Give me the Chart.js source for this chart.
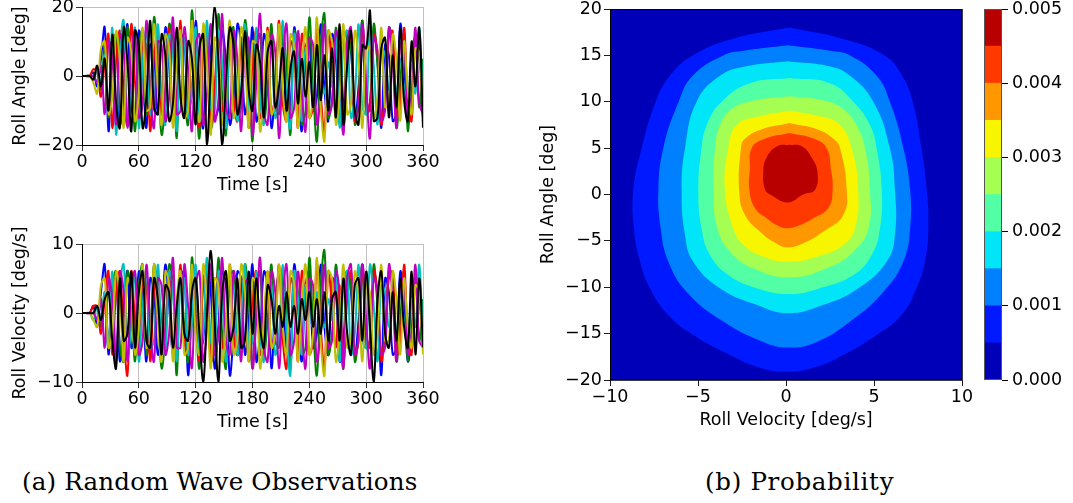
<!DOCTYPE html>
<html>
<head>
<meta charset="utf-8">
<script src="https://cdn.jsdelivr.net/npm/chart.js@4.4.0/dist/chart.umd.min.js"></script>
<style>
  html, body { margin: 0; padding: 0; background: #fff; }
  body { position: relative; width: 1073px; height: 503px; overflow: hidden; }
  canvas { position: absolute; }
  .cap { position: absolute; font-family: 'DejaVu Serif', serif; font-size: 24.5px; line-height: 1; color: #000; white-space: nowrap; }
</style>
</head>
<body>
<canvas id="angleChart" width="470" height="212" style="left:0;top:-13px"></canvas>
<canvas id="velChart" width="470" height="212" style="left:0;top:224px"></canvas>
<canvas id="probChart" width="447" height="445" style="left:530px;top:-11px"></canvas>
<canvas id="barChart" width="97" height="411" style="left:976px;top:-11px"></canvas>
<div class="cap" style="left:22px;top:470px;letter-spacing:0.2px">(a) Random Wave Observations</div>
<div class="cap" style="left:705px;top:470px;letter-spacing:0.7px">(b) Probability</div>
<script>
'use strict';

// ── Time axis (s) ─────────────────────────────────────────────────
const TIME = [0,4,8,12,16,20,24,28,32,36,40,44,48,52,56,60,64,68,72,76,80,84,88,92,96,100,104,108,112,116,
  120,124,128,132,136,140,144,148,152,156,160,164,168,172,176,180,184,188,192,196,200,204,208,212,216,220,224,228,232,236,
  240,244,248,252,256,260,264,268,272,276,280,284,288,292,296,300,304,308,312,316,320,324,328,332,336,340,344,348,352,356,360];
const TIME_TICKS = [0, 60, 120, 180, 240, 300, 360];

// ── Roll angle [deg] ──────────────────────────────────────────────
const ANGLE_BLUE = [0,0,0,1,-3,5,14,-16,8,10, -14,-3,15,-9,-12,13,2,-15,9,6, -11,-8,14,3,-13,-6,12,10,-10,-5,
  16,-4,-15,11,7,-12,-9,13,4,-14, -7,15,9,-11,-2,14,-13,-8,12,6, -15,-3,13,10,-12,-9,14,2,-16,8,
  11,-10,-6,15,-4,-13,12,5,-14,-9, 11,7,-12,-3,16,-10,-8,13,4,-15, 9,6,-13,-11,15,2,-14,-6,12,10, -12];
const ANGLE_GREEN = [0,0,0,0,2,-4,9,-12,6,12, -10,-13,14,4,-16,8,13,-11,-7,17, 3,-17,-6,15,9,-18,12,-5,-14,19,
  -2,-18,10,13,-15,-8,18,-6,-17,11, 14,-12,-9,16,5,-19,7,12,-13,-3, 15,-9,-11,14,2,-17,13,6,-14,-10,
  17,-4,-19,9,18,-12,-7,14,-3,-16, 12,8,-14,-6,16,-11,-9,15,3,-13, -7,14,10,-15,-2,12,-16,7,11,-9, 5];
const ANGLE_RED = [0,0,0,2,1,-6,4,12,-15,5, 13,-7,-14,15,-2,-12,10,9,-16,6, 12,-11,-4,14,-13,-7,16,-9,-12,13,
  6,-15,8,11,-14,-3,12,-10,-8,15, -6,-13,11,9,-15,4,13,-12,-7,14, -11,-5,16,-8,-13,10,6,-15,12,3,
  -12,-9,14,-5,-16,13,2,-11,9,-14, 5,12,-13,-8,15,-6,-10,12,7,-14, -4,11,13,-12,-9,14,-7,-13,10,5, -8];
const ANGLE_CYAN = [0,0,0,-1,2,-2,6,-10,14,-17, 8,16,-13,-5,14,-15,3,13,-11,-9, 15,-6,-14,12,7,-16,9,11,-12,-4,
  14,-13,-7,16,-9,-11,13,4,-15,10, 8,-13,-3,15,-10,-8,14,-6,-14,11, 9,-12,-6,16,-7,-15,12,5,-13,8,
  3,-4,6,-2,-5,4,-3,12,-15,9, 13,-12,-6,15,-9,-11,14,3,-14,8, 6,-4,3,-5,5,-3,-6,4,-5,14, -10];
const ANGLE_MAGENTA = [0,0,0,0,-2,3,-11,10,5,-14, 12,7,-15,6,13,-12,-8,16,-4,-15, 10,9,-13,-6,17,-11,-10,14,2,-16,
  9,12,-14,-5,15,-13,-7,18,-9,-12, 13,5,-16,8,11,-17,-2,18,-10,-14, 12,7,-18,4,15,-12,-9,13,-5,-16,
  11,9,-14,-4,15,-11,-8,13,6,-17, 10,14,-12,-9,15,-2,-18,11,7,-13, -10,14,4,-15,9,10,-12,-6,14,-8, -11];
const ANGLE_YELLOW = [0,0,0,-2,-5,8,10,-11,-6,13, 4,-15,11,7,-13,-5,14,-10,-9,15, -3,-14,12,8,-15,5,13,-12,-10,16,
  -6,-13,15,3,-17,11,8,-14,-4,16, -12,-8,14,6,-15,10,9,-16,-3,13, -11,-7,15,-4,-13,12,8,-15,2,14,
  -12,-6,17,-9,-19,13,10,-14,-5,15, -11,-8,13,4,-15,9,7,-12,-6,14, -9,-8,12,5,-13,10,-4,-11,8,7, -12];
const ANGLE_BLACK = [0,0,0,-1,3,-3,5,-10,12,-8, -15,14,4,-16,13,9,-15,-6,16,-9, -11,12,6,-13,-8,14,-6,-12,10,5,
  -14,8,12,-20,2,20,4,-20,-2,14, 9,-11,-5,13,-4,-10,9,4,-12,7, 10,-9,-3,8,-10,2,7,-8,5,-6,
  4,-9,9,-7,6,-10,8,-12,15,-14, 3,13,-10,-14,9,8,19,-13,-12,8, 11,-12,6,-9,14,-7,-13,10,-3,14, -15];

// ── Roll velocity [deg/s] ─────────────────────────────────────────
const VEL_BLUE = [0,0,0,1,-2,3,7,-6,4,5, -7,1,6,-5,-3,6,2,-7,5,3, -6,-2,7,1,-6,-4,5,6,-9,2,
  6,-5,-4,7,3,-8,-2,6,4,-9, -3,6,5,-6,-1,7,-7,-3,6,4, -8,1,6,5,-6,-5,7,1,-7,4,
  6,-5,-3,7,-2,-6,5,3,-7,-4, 6,3,-6,-1,7,-5,-4,6,2,-9, 5,3,-6,-5,6,1,-7,-3,5,4, -5];
const VEL_GREEN = [0,0,0,0,1,-2,3,-5,4,6, -5,-7,6,2,-7,4,7,-6,-3,7, 1,-8,-3,7,4,-9,6,-2,-7,8,
  -1,-8,5,6,-7,-4,8,-3,-8,5, 6,-6,-4,7,2,-8,3,6,-6,-1, 7,-4,-5,6,1,-8,6,3,-6,-5,
  8,-2,-9,4,9,-6,-3,7,-1,-8, 6,4,-7,-3,7,-5,-4,7,1,-6, -3,6,5,-7,-1,6,-7,3,5,-4, 2];
const VEL_RED = [0,0,0,1,1,-3,2,6,-6,3, 6,-3,-9,6,-1,-6,5,4,-7,3, 6,-5,-2,6,-6,-3,7,-4,-6,6,
  3,-7,4,5,-7,-1,6,-5,-4,7, -3,-6,5,4,-7,2,6,-6,-3,6, -5,-2,7,-4,-8,5,3,-7,6,1,
  -6,-4,7,-2,-8,6,1,-5,4,-7, 2,6,-6,-4,7,-3,-5,6,3,-7, -2,5,6,-6,-4,7,-3,-6,5,2, -4];
const VEL_CYAN = [0,0,0,-1,1,-1,3,-5,6,-7, 4,7,-6,-2,6,-7,1,6,-5,-4, 7,-3,-6,6,3,-7,4,5,-6,-2,
  7,-6,-3,8,-4,-5,6,2,-7,5, 4,-6,-1,7,-5,-4,6,-3,-7,5, 4,-6,-3,7,-3,-9,6,2,-6,4,
  1,-2,3,-1,-2,2,-1,6,-7,4, 6,-6,-3,7,-4,-5,7,1,-7,4, 3,-2,2,-3,3,-1,-3,2,-2,7, -5];
const VEL_MAGENTA = [0,0,0,0,-1,2,-5,5,2,-7, 6,3,-7,3,6,-6,-4,7,-2,-7, 5,4,-6,-3,8,-5,-5,7,1,-8,
  4,6,-7,-2,7,-6,-3,8,-4,-6, 6,2,-7,4,5,-8,-1,8,-5,-7, 6,3,-8,2,7,-6,-4,6,-2,-8,
  5,4,-7,-2,7,-5,-4,6,3,-8, 5,7,-6,-4,7,-1,-8,5,3,-6, -5,7,2,-7,4,5,-6,-3,7,-4, -5];
const VEL_YELLOW = [0,0,0,-1,-2,4,5,-5,-3,6, 2,-7,5,3,-6,-2,7,-5,-4,7, -1,-7,6,4,-7,2,6,-6,-5,7,
  -3,-6,7,1,-8,5,4,-7,-2,7, -6,-4,7,3,-7,5,4,-8,-1,6, -5,-3,7,-2,-6,6,4,-7,1,7,
  -6,-3,8,-4,-9,6,5,-7,-2,7, -5,-4,6,2,-7,4,3,-6,-3,7, -4,-4,6,2,-6,5,-2,-5,4,3, -6];
const VEL_BLACK = [0,0,0,0,1,-1,2,3,-4,-8, 5,-4,-3,6,-5,3,6,-4,-5,5, 2,-6,4,3,-5,1,5,-3,-4,3,
  5,-3,-10,0,9,-1,-10,3,6,-4, -2,5,-5,-4,6,-3,5,-2,-5,4, 2,-3,1,-2,3,-2,1,-3,2,-1,
  3,-2,2,-3,3,-4,2,3,-4,5, -3,-6,4,5,-4,6,-2,-10,2,6, -3,-5,3,-4,5,-2,-5,6,-6,5, -5];

// ── Probability contours: level edges and iso-lines (roll vel, roll angle) ──
const CONTOUR_LEVELS = [0, 0.0005, 0.001, 0.0015, 0.002, 0.0025, 0.003, 0.0035, 0.004, 0.0045, 0.005];
const LEVEL_TICKS = [0, 0.001, 0.002, 0.003, 0.004, 0.005];
const ISO_0005 = [[0.2,18.0],[3.2,16.8],[5.6,15],[6.6,12.8],[7.2,10],[7.7,5],[8.0,0.5],[8.09,-3.65],[7.9,-7.2],
  [7.42,-10.1],[6.57,-13],[5.15,-15.15],[3.26,-17.3],[1.74,-18.56],[0.0,-19.1],[-1.67,-18.56],[-3.18,-17.3],
  [-5.27,-15.15],[-6.69,-13],[-7.73,-10.1],[-8.3,-7.2],[-8.64,-3.65],[-8.67,0.5],[-8.2,5],[-7.4,10],
  [-6.6,12.8],[-5.3,15],[-3.0,16.8]];
const ISO_0010 = [[0.1,16.1],[2.5,15.5],[3.64,15],[5.15,12.8],[5.9,10],[6.67,5],[7.05,0.5],[7.05,-3.65],[6.67,-7.2],
  [5.53,-10.5],[3.64,-13.7],[1.74,-15.9],[0.1,-16.5],[-1.29,-15.9],[-3.56,-13.7],[-5.64,-10.5],[-6.69,-7.2],
  [-7.12,-3.65],[-7.25,0.5],[-6.97,5],[-6.1,10],[-5.3,12.8],[-3.56,15],[-2.4,15.5]];
const ISO_0015 = [[0.1,14.36],[2.5,13.8],[3.64,12.8],[4.96,10],[5.9,5],[6.19,0.5],[6.19,-4.37],[5.72,-7.24],
  [4.11,-10.1],[2.12,-11.9],[0.1,-12.81],[-1.67,-11.9],[-3.75,-10.1],[-5.27,-7.24],[-5.74,-4.37],[-5.93,0.5],
  [-5.74,5],[-5.08,10],[-3.75,12.8],[-2.3,13.8]];
const ISO_0020 = [[0.2,12.56],[2.5,12],[3.83,10],[4.77,7.5],[5.15,5],[5.44,0.5],[5.34,-3.65],[4.87,-6.52],
  [3.83,-8.68],[1.93,-10.1],[0.2,-10.73],[-1.67,-10.1],[-3.28,-8.68],[-4.32,-6.52],[-4.8,-3.65],[-4.98,0.5],
  [-4.8,5],[-4.5,7.5],[-3.66,10],[-2.05,12]];
const ISO_0025 = [[0.2,10.58],[2.2,10.1],[3.26,9.2],[4.0,7.5],[4.49,5],[4.77,0.5],[4.68,-3.65],[3.83,-6.16],
  [2.31,-7.96],[0.2,-8.93],[-1.86,-7.96],[-3.18,-6.16],[-3.9,-3.65],[-4.13,0.5],[-4.03,5],[-3.75,7.5],
  [-3.1,9.2],[-1.9,10.1]];
const ISO_0030 = [[0.2,9.04],[2.0,8.4],[3.07,7.5],[3.73,5],[4.1,0.5],[3.92,-3.65],[3.26,-5.45],[1.74,-6.7],
  [0.1,-7.24],[-1.29,-6.7],[-2.42,-5.45],[-3.0,-3.65],[-3.47,0.5],[-3.28,5],[-2.8,7.5],[-1.6,8.4]];
const ISO_0035 = [[0.2,7.7],[1.8,7.0],[2.69,6],[3.07,5],[3.45,0.5],[3.26,-2.2],[2.12,-4],[1.17,-5.1],[0.1,-5.7],
  [-0.72,-5.1],[-1.48,-4],[-2.33,-2.2],[-2.65,0.2],[-2.56,5],[-2.33,6],[-1.4,7.0]];
const ISO_0040 = [[0.2,6.63],[1.6,6.0],[2.31,5],[2.55,2.8],[2.65,0.5],[2.4,-1.49],[1.55,-2.57],[0.8,-3.3],
  [0.04,-3.65],[-0.53,-3.3],[-1.1,-2.57],[-1.76,-1.49],[-2.08,0.5],[-2.05,2.8],[-1.95,5],[-1.2,6.0]];
const ISO_0045 = [[0.2,5.37],[0.9,5.2],[1.46,4],[1.78,2.5],[1.65,0.5],[0.98,0],[0.1,-0.85],[-0.9,0],
  [-1.19,0.5],[-1.29,2.5],[-1.1,4],[-0.5,5.2]];
const ISO_LINES = [ISO_0005, ISO_0010, ISO_0015, ISO_0020, ISO_0025, ISO_0030, ISO_0035, ISO_0040, ISO_0045];

// ── Styles ────────────────────────────────────────────────────────
const JET = ['#0000b9', '#0019ff', '#007fff', '#00e5f7', '#52ffa4', '#a4ff52', '#f7f500', '#ff9700', '#ff3900', '#b90000'];
const FONT = { family: 'DejaVu Sans', size: 17.5 };

Chart.defaults.font.family = 'DejaVu Sans';
Chart.defaults.color = '#000';
Chart.defaults.animation = false;
Chart.defaults.events = [];
Chart.defaults.plugins.legend.display = false;
Chart.defaults.plugins.tooltip.enabled = false;

function fmt(v) { return v < 0 ? '\u2212' + Math.abs(v) : String(v); }

// ── Time-series panels ────────────────────────────────────────────
function waveChart(id, series, yLim, yTitle, xTitle) {
  const n = series.length;
  return new Chart(document.getElementById(id), {
    type: 'line',
    data: {
      datasets: series.map((s, i) => ({
        data: s.values.map((v, k) => ({ x: TIME[k], y: v })),
        borderColor: s.color,
        borderWidth: 2,
        pointRadius: 0,
        tension: 0.4,
        order: n - i,
      })),
    },
    options: {
      responsive: false,
      layout: { padding: { top: 20, right: 47, bottom: 0, left: 0 } },
      scales: {
        x: {
          type: 'linear', min: 0, max: 360,
          afterBuildTicks: s => { s.ticks = TIME_TICKS.map(v => ({ value: v })); },
          afterFit: s => { s.height = 54; },
          ticks: { font: FONT, padding: 1, maxRotation: 0, callback: fmt },
          grid: { color: '#b0b0b0', lineWidth: 0.8, borderDash: [3, 3], tickColor: '#000', tickLength: 6, tickBorderDash: [] },
          border: { color: '#000', width: 1 },
          title: { display: true, text: xTitle, font: FONT, padding: { top: 0, bottom: 3 } },
        },
        y: {
          min: -yLim, max: yLim,
          afterBuildTicks: s => { s.ticks = [-yLim, 0, yLim].map(v => ({ value: v })); },
          afterFit: s => { s.width = 82; },
          ticks: { font: FONT, padding: 2, callback: fmt },
          grid: { color: '#b0b0b0', lineWidth: 0.8, borderDash: [3, 3], tickColor: '#000', tickLength: 6, tickBorderDash: [] },
          border: { color: '#000', width: 1 },
          title: { display: true, text: yTitle, font: FONT, padding: { top: 10, bottom: 0 } },
        },
      },
    },
  });
}

const C = { b: '#0000ff', g: '#008000', r: '#ff0000', c: '#00bfbf', m: '#bf00bf', y: '#bfbf00', k: '#000000' };

waveChart('angleChart', [
  { values: ANGLE_BLUE, color: C.b }, { values: ANGLE_GREEN, color: C.g }, { values: ANGLE_RED, color: C.r },
  { values: ANGLE_CYAN, color: C.c }, { values: ANGLE_MAGENTA, color: C.m }, { values: ANGLE_YELLOW, color: C.y },
  { values: ANGLE_BLACK, color: C.k },
], 20, 'Roll Angle [deg]', 'Time [s]');

waveChart('velChart', [
  { values: VEL_BLUE, color: C.b }, { values: VEL_GREEN, color: C.g }, { values: VEL_RED, color: C.r },
  { values: VEL_CYAN, color: C.c }, { values: VEL_MAGENTA, color: C.m }, { values: VEL_YELLOW, color: C.y },
  { values: VEL_BLACK, color: C.k },
], 10, 'Roll Velocity [deg/s]', 'Time [s]');

// ── Contour panel ─────────────────────────────────────────────────
const contourBg = {
  id: 'contourBg',
  beforeDatasetsDraw(chart) {
    const { ctx, chartArea: a } = chart;
    ctx.save(); ctx.fillStyle = JET[0]; ctx.fillRect(a.left, a.top, a.width, a.height); ctx.restore();
  },
};
const frame = color => ({
  id: 'frame',
  afterDraw(chart) {
    const { ctx, chartArea: a } = chart;
    ctx.save(); ctx.strokeStyle = color; ctx.lineWidth = 1;
    ctx.strokeRect(Math.round(a.left) + 0.5, Math.round(a.top) + 0.5, Math.round(a.width) - 1, Math.round(a.height) - 1);
    ctx.restore();
  },
});

const darkGrid = { color: 'rgba(0,0,0,0.85)', lineWidth: 0.9, borderDash: [4, 3], tickColor: '#000', tickLength: 6, tickBorderDash: [] };

new Chart(document.getElementById('probChart'), {
  type: 'scatter',
  data: {
    datasets: ISO_LINES.map((pts, i) => ({
      data: pts.concat([pts[0]]).map(([x, y]) => ({ x, y })),
      showLine: true,
      fill: 'shape',
      backgroundColor: JET[i + 1],
      borderColor: JET[i + 1],
      borderWidth: 0,
      pointRadius: 0,
      tension: 0.45,
      order: ISO_LINES.length - i,
    })),
  },
  options: {
    responsive: false,
    layout: { padding: { top: 20, right: 15, bottom: 0, left: 0 } },
    scales: {
      x: {
        type: 'linear', min: -10, max: 10, z: 1,
        afterFit: s => { s.height = 54; },
        ticks: { font: FONT, stepSize: 5, padding: 1, maxRotation: 0, callback: fmt },
        grid: darkGrid,
        border: { display: false },
        title: { display: true, text: 'Roll Velocity [deg/s]', font: FONT, padding: { top: 0, bottom: 3 } },
      },
      y: {
        min: -20, max: 20, z: 1,
        afterFit: s => { s.width = 80; },
        ticks: { font: FONT, stepSize: 5, padding: 2, callback: fmt },
        grid: darkGrid,
        border: { display: false },
        title: { display: true, text: 'Roll Angle [deg]', font: FONT, padding: { top: 8, bottom: 0 } },
      },
    },
  },
  plugins: [contourBg, frame('#000')],
});

// ── Colour bar ────────────────────────────────────────────────────
new Chart(document.getElementById('barChart'), {
  type: 'bar',
  data: {
    labels: [''],
    datasets: JET.map((c, i) => ({
      data: [[CONTOUR_LEVELS[i], CONTOUR_LEVELS[i + 1]]],
      backgroundColor: c,
      borderWidth: 0,
      barPercentage: 1,
      categoryPercentage: 1,
      grouped: false,
    })),
  },
  options: {
    responsive: false,
    layout: { padding: { top: 20, right: 0, bottom: 20, left: 8 } },
    scales: {
      x: { display: false },
      y: {
        position: 'right', min: 0, max: 0.005,
        afterBuildTicks: s => { s.ticks = LEVEL_TICKS.map(v => ({ value: v })); },
        afterFit: s => { s.width = 71; },
        ticks: { font: FONT, padding: 4, callback: v => v.toFixed(3) },
        grid: { drawOnChartArea: false, tickColor: '#000', tickLength: 6 },
        border: { display: false },
      },
    },
  },
  plugins: [frame('#555')],
});
</script>
</body>
</html>
